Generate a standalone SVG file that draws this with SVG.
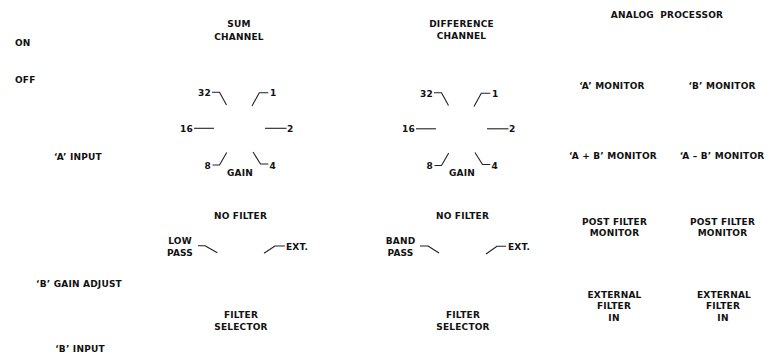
<svg xmlns="http://www.w3.org/2000/svg" width="774" height="361" viewBox="0 0 774 361">
<style>
text{font-family:"DejaVu Sans","Liberation Sans",sans-serif;font-weight:bold;font-size:9px;fill:#111;letter-spacing:0.2px}
.m{text-anchor:middle}
.e{text-anchor:end}
.ln{fill:none;stroke:#222;stroke-width:1.1;stroke-linejoin:round}
</style>
<rect width="774" height="361" fill="#fff"/>
<g id="power">
<text x="15" y="45.5">ON</text>
<text x="15" y="82.5">OFF</text>
</g>
<g id="a-input"><text class="m" x="78" y="159.5">‘A’ INPUT</text></g>
<g id="b-gain-adjust"><text class="m" x="79" y="286.8">‘B’ GAIN ADJUST</text></g>
<g id="b-input"><text class="m" x="80" y="351.5">‘B’ INPUT</text></g>

<g id="sum-channel">
<text class="m" x="239" y="26.8">SUM</text>
<text class="m" x="239" y="39.5">CHANNEL</text>
</g>
<g id="sum-gain">
<text class="e" x="211" y="96">32</text>
<text x="270" y="96">1</text>
<text class="e" x="193" y="131.7">16</text>
<text x="287" y="131.7">2</text>
<text class="e" x="211" y="168.5">8</text>
<text x="269.5" y="168.5">4</text>
<text class="m" x="240" y="175.8">GAIN</text>
</g>
<g id="sum-filter">
<text class="m" x="240.5" y="218.5">NO FILTER</text>
<text class="m" x="180" y="244">LOW</text>
<text class="m" x="180" y="256">PASS</text>
<text x="286" y="250">EXT.</text>
<text class="m" x="241" y="317.5">FILTER</text>
<text class="m" x="241" y="330">SELECTOR</text>
</g>

<g id="difference-channel">
<text class="m" x="461.5" y="26.5">DIFFERENCE</text>
<text class="m" x="461.5" y="39">CHANNEL</text>
</g>
<g id="difference-gain" transform="translate(222,0.5)">
<text class="e" x="211" y="96">32</text>
<text x="270" y="96">1</text>
<text class="e" x="193" y="131.7">16</text>
<text x="287" y="131.7">2</text>
<text class="e" x="211" y="168.5">8</text>
<text x="269.5" y="168.5">4</text>
<text class="m" x="240" y="175.8">GAIN</text>
</g>
<g id="difference-filter">
<text class="m" x="462.5" y="218.5">NO FILTER</text>
<text class="m" x="400.5" y="244">BAND</text>
<text class="m" x="400.5" y="256">PASS</text>
<text x="508" y="250">EXT.</text>
<text class="m" x="463" y="317.5">FILTER</text>
<text class="m" x="463" y="330">SELECTOR</text>
</g>

<g id="analog-processor"><text class="m" x="667" y="17.5" style="word-spacing:3px">ANALOG PROCESSOR</text></g>
<g id="a-monitor"><text class="m" x="612" y="89">‘A’ MONITOR</text></g>
<g id="b-monitor"><text class="m" x="722" y="89">‘B’ MONITOR</text></g>
<g id="a-plus-b-monitor"><text class="m" x="613" y="158.5">‘A + B’ MONITOR</text></g>
<g id="a-minus-b-monitor"><text class="m" x="722" y="158.5">‘A – B’ MONITOR</text></g>
<g id="post-filter-monitor-1">
<text class="m" x="614.5" y="225">POST FILTER</text>
<text class="m" x="614.5" y="235.5">MONITOR</text>
</g>
<g id="post-filter-monitor-2">
<text class="m" x="722.5" y="225">POST FILTER</text>
<text class="m" x="722.5" y="235.5">MONITOR</text>
</g>
<g id="external-filter-in-1">
<text class="m" x="614.5" y="297.5">EXTERNAL</text>
<text class="m" x="614" y="308.8">FILTER</text>
<text class="m" x="614" y="320.5">IN</text>
</g>
<g id="external-filter-in-2">
<text class="m" x="724" y="297.5">EXTERNAL</text>
<text class="m" x="723" y="308.8">FILTER</text>
<text class="m" x="723" y="320.5">IN</text>
</g>

<g id="connectors" class="ln">
<g id="sum-gain-ticks">
<path d="M212,92.3 H219.5 L226.5,105"/>
<path d="M252,106 L259.3,92.7 H268.3"/>
<path d="M194,128.3 H214"/>
<path d="M265,128.3 H286.5"/>
<path d="M212.5,165 H219.5 L226.7,152.5"/>
<path d="M253,152 L260.5,164 H268.3"/>
</g>
<g id="difference-gain-ticks" transform="translate(222,0.5)">
<path d="M212,92.3 H219.5 L226.5,105"/>
<path d="M252,106 L259.3,92.7 H268.3"/>
<path d="M194,128.3 H214"/>
<path d="M265,128.3 H286.5"/>
<path d="M212.5,165 H219.5 L226.7,152.5"/>
<path d="M253,152 L260.5,164 H268.3"/>
</g>
<path d="M198,245.8 H205 L217.3,252.8"/>
<path d="M264,253.3 L275,246 H285"/>
<path d="M420,246 H428 L439,253"/>
<path d="M486,254 L497,246.3 H506"/>
</g>
</svg>
